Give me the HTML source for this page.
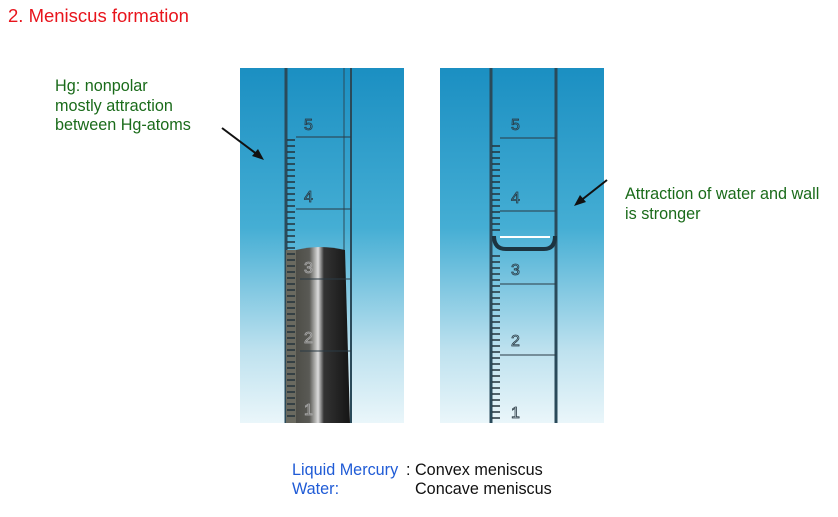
<!DOCTYPE html>
<html><head><style>
body{margin:0;width:838px;height:517px;background:#fff;font-family:"Liberation Sans",sans-serif;position:relative;overflow:hidden}
.t{position:absolute;white-space:nowrap}
</style></head><body>
<div class="t" style="left:8px;top:5px;font-size:18.5px;color:#e8141c">2. Meniscus formation</div>
<div class="t" style="left:55px;top:77px;font-size:16.2px;line-height:19.5px;color:#1a6b1a">Hg: nonpolar<br>mostly attraction<br>between Hg-atoms</div>
<div class="t" style="left:625px;top:185px;font-size:16.2px;line-height:19.5px;color:#1a6b1a">Attraction of water and wall<br>is stronger</div>
<div class="t" style="left:292px;top:461px;font-size:16.2px;line-height:19px;color:#1f5bd6">Liquid Mercury<br>Water:</div>
<div class="t" style="left:406px;top:461px;font-size:16.2px;line-height:19px;color:#111">: Convex meniscus<br>&nbsp;&nbsp;Concave meniscus</div>
<svg width="838" height="517" style="position:absolute;left:0;top:0">
<defs>
<linearGradient id="bg" x1="0" y1="0" x2="0" y2="1">
<stop offset="0" stop-color="#1b8fc2"/><stop offset="0.45" stop-color="#45aed4"/><stop offset="0.8" stop-color="#bfe2ef"/><stop offset="1" stop-color="#eaf6fa"/></linearGradient>
<linearGradient id="hg" x1="0" y1="0" x2="1" y2="0">
<stop offset="0" stop-color="#4a4a44"/><stop offset="0.3" stop-color="#5a5a55"/><stop offset="0.45" stop-color="#ddd"/><stop offset="0.55" stop-color="#333"/><stop offset="1" stop-color="#151515"/></linearGradient>
</defs>
<rect x="240" y="68" width="164" height="355" fill="url(#bg)"/>
<rect x="440" y="68" width="164" height="355" fill="url(#bg)"/>
<g stroke="#2a4a5a" fill="none">
<line x1="286" y1="68" x2="286" y2="423" stroke-width="3"/>
<line x1="351" y1="68" x2="351" y2="423" stroke-width="2"/>
<line x1="344" y1="68" x2="344" y2="423" stroke-width="1"/>
</g>
<path d="M296 250 Q320 244 345 250 L350 423 L292 423 Z" fill="url(#hg)"/>
<rect x="286" y="250" width="10" height="173" fill="#6a6a60"/>
<g stroke="#2a3a44" stroke-width="1">
<line x1="296" y1="137" x2="351" y2="137"/><line x1="296" y1="209" x2="351" y2="209"/>
<line x1="300" y1="279" x2="351" y2="279"/><line x1="300" y1="351" x2="351" y2="351"/>
</g>
<g stroke="#23323a" stroke-width="1.5">
<path d="M287 140h8M287 146h8M287 152h8M287 158h8M287 164h8M287 170h8M287 176h8M287 182h8M287 188h8M287 194h8M287 200h8M287 206h8M287 212h8M287 218h8M287 224h8M287 230h8M287 236h8M287 242h8M287 248h8M287 254h8M287 260h8M287 266h8M287 272h8M287 278h8M287 284h8M287 290h8M287 296h8M287 302h8M287 308h8M287 314h8M287 320h8M287 326h8M287 332h8M287 338h8M287 344h8M287 350h8M287 356h8M287 362h8M287 368h8M287 374h8M287 380h8M287 386h8M287 392h8M287 398h8M287 404h8M287 410h8M287 416h8"/>
</g>
<g font-family="Liberation Sans" font-size="16" fill="none" stroke="#2a3a44" stroke-width="0.8">
<text x="304" y="130">5</text><text x="304" y="202">4</text><text x="304" y="273" stroke="#aaa">3</text><text x="304" y="343" stroke="#aaa">2</text><text x="304" y="415" stroke="#aaa">1</text></g>
<g stroke="#2a4a5a" fill="none">
<line x1="491" y1="68" x2="491" y2="423" stroke-width="3"/>
<line x1="556" y1="68" x2="556" y2="423" stroke-width="3"/>
</g>
<path d="M494 236 Q494 249 506 249 L544 249 Q555 249 555 236" fill="none" stroke="#1c3440" stroke-width="4"/>
<line x1="500" y1="237" x2="550" y2="237" stroke="#fff" stroke-width="2"/>
<g stroke="#2a3a44" stroke-width="1">
<line x1="500" y1="138" x2="556" y2="138"/><line x1="500" y1="211" x2="556" y2="211"/>
<line x1="500" y1="284" x2="556" y2="284"/><line x1="500" y1="355" x2="556" y2="355"/>
</g>
<g stroke="#23323a" stroke-width="1.5">
<path d="M492 146h8M492 152h8M492 158h8M492 164h8M492 170h8M492 176h8M492 182h8M492 188h8M492 194h8M492 200h8M492 206h8M492 212h8M492 218h8M492 224h8M492 230h8M492 256h8M492 262h8M492 268h8M492 274h8M492 280h8M492 286h8M492 292h8M492 298h8M492 304h8M492 310h8M492 316h8M492 322h8M492 328h8M492 334h8M492 340h8M492 346h8M492 352h8M492 358h8M492 364h8M492 370h8M492 376h8M492 382h8M492 388h8M492 394h8M492 400h8M492 406h8M492 412h8M492 418h8"/>
</g>
<g font-family="Liberation Sans" font-size="16" fill="none" stroke="#2a3a44" stroke-width="0.8">
<text x="511" y="130">5</text><text x="511" y="203">4</text><text x="511" y="275">3</text><text x="511" y="346">2</text><text x="511" y="418">1</text></g>
<line x1="222" y1="128" x2="258" y2="155" stroke="#111" stroke-width="2"/>
<polygon points="264,160 252,156 258,149" fill="#111"/>
<line x1="607" y1="180" x2="579" y2="202" stroke="#111" stroke-width="2"/>
<polygon points="574,206 580,195 586,202" fill="#111"/>
</svg>
</body></html>
